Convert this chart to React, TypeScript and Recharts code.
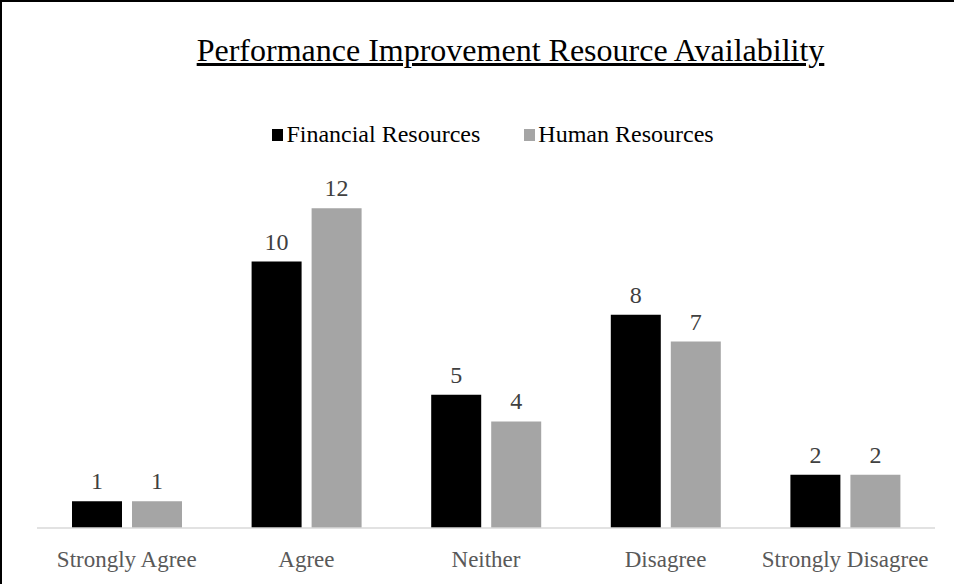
import { BarChart, Bar, XAxis, YAxis, Legend, LabelList } from 'recharts'

const categories = ['Strongly Agree', 'Agree', 'Neither', 'Disagree', 'Strongly Disagree']
const financialResources = [1, 10, 5, 8, 2]
const humanResources = [1, 12, 4, 7, 2]

const data = categories.map((name, i) => ({
    name,
    financial: financialResources[i],
    human: humanResources[i],
}))

const FONT = '"Liberation Serif", "Times New Roman", serif'

function LegendContent() {
    const items = [
        { label: 'Financial Resources', color: '#000000' },
        { label: 'Human Resources', color: '#A5A5A5' },
    ]
    return (
        <div style={{ display: 'flex', justifyContent: 'center', gap: 44, fontFamily: FONT, fontSize: 24, color: '#000', paddingLeft: 32 }}>
            {items.map((it) => (
                <div key={it.label} style={{ display: 'flex', alignItems: 'center' }}>
                    <span style={{ width: 11, height: 12, background: it.color, display: 'inline-block', marginRight: 3 }} />
                    <span>{it.label}</span>
                </div>
            ))}
        </div>
    )
}

export default function App() {
    return (
        <div
            style={{
                position: 'fixed',
                top: 0,
                left: 0,
                width: 954,
                height: 584,
                background: '#fff',
                borderTop: '2px solid #000',
                borderLeft: '2px solid #000',
                boxSizing: 'border-box',
                overflow: 'hidden',
            }}
        >
            <div
                style={{
                    position: 'absolute',
                    top: 30,
                    left: 0,
                    width: 1017,
                    textAlign: 'center',
                    fontFamily: FONT,
                    fontSize: 32,
                    textDecoration: 'underline',
                    color: '#000',
                }}
            >
                Performance Improvement Resource Availability
            </div>
            <div style={{ position: 'absolute', top: -2, left: -2 }}>
                <BarChart
                    width={954}
                    height={584}
                    data={data}
                    margin={{ top: 155, right: 19, bottom: 16, left: 37 }}
                    barGap={10}
                    barSize={50}
                >
                    <XAxis
                        dataKey="name"
                        height={40}
                        tickLine={false}
                        axisLine={{ stroke: '#D9D9D9', strokeWidth: 1.5 }}
                        tick={{ fill: '#595959', fontSize: 23, fontFamily: FONT }}
                        dy={15}
                    />
                    <YAxis hide domain={[0, 14]} />
                    <Legend
                        verticalAlign="middle"
                        align="center"
                        layout="horizontal"
                        content={<LegendContent />}
                        wrapperStyle={{ top: 121, left: 0, width: 954 }}
                    />
                    <Bar dataKey="financial" name="Financial Resources" fill="#000000" isAnimationActive={false}>
                        <LabelList dataKey="financial" position="top" offset={12} fill="#404040" fontSize={24} fontFamily={FONT} />
                    </Bar>
                    <Bar dataKey="human" name="Human Resources" fill="#A5A5A5" isAnimationActive={false}>
                        <LabelList dataKey="human" position="top" offset={12} fill="#404040" fontSize={24} fontFamily={FONT} />
                    </Bar>
                </BarChart>
            </div>
        </div>
    )
}
